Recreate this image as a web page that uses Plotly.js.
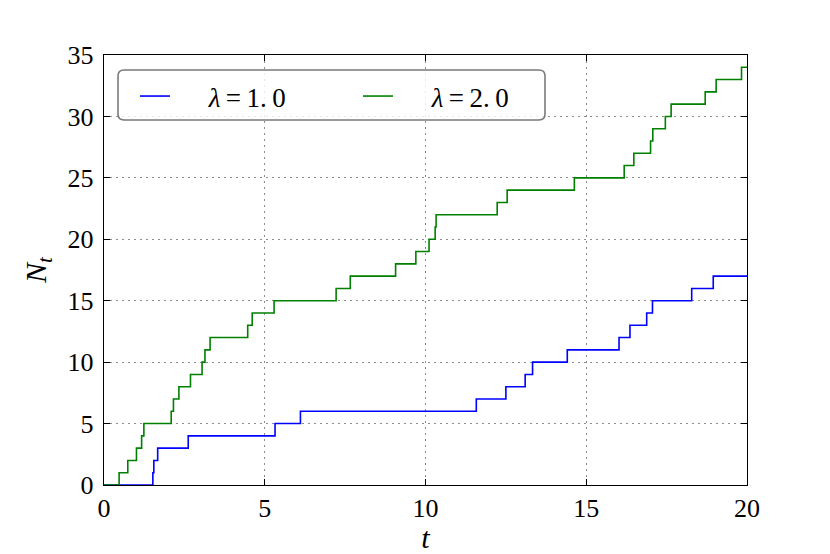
<!DOCTYPE html>
<html>
<head>
<meta charset="utf-8">
<script src="https://cdn.plot.ly/plotly-3.0.1.min.js"></script>
<style>html,body{margin:0;padding:0;background:#fff}#chart{width:830px;height:554px}</style>
</head>
<body>
<div id="chart"></div>
<script>
// Event times and counts
const blueT = [0, 1.52, 1.55, 1.67, 2.62, 5.32, 6.11, 11.58, 12.50, 13.10, 13.33, 14.41, 16.02, 16.36, 16.88, 17.06, 18.28, 18.95, 20];
const blueN = [0, 1, 2, 3, 4, 5, 6, 7, 8, 9, 10, 11, 12, 13, 14, 15, 16, 17, 17];
const greenT = [0, 0.47, 0.74, 1.01, 1.17, 1.24, 2.09, 2.16, 2.33, 2.69, 3.05, 3.14, 3.30, 4.47, 4.61, 5.29, 7.22, 7.66, 9.07, 9.70, 10.11, 10.30, 10.33, 12.23, 12.54, 14.63, 16.18, 16.48, 17.00, 17.07, 17.46, 17.64, 18.70, 19.04, 19.83, 20];
const greenN = [0, 1, 2, 3, 4, 5, 6, 7, 8, 9, 10, 11, 12, 13, 14, 15, 16, 17, 18, 19, 20, 21, 22, 23, 24, 25, 26, 27, 28, 29, 30, 31, 32, 33, 34, 34];
const seriesNames = ['<i>λ</i>\u2009=\u20091.\u20090', '<i>λ</i>\u2009=\u20092.\u20090'];
const xTicks = [0, 5, 10, 15, 20];
const yTicks = [0, 5, 10, 15, 20, 25, 30, 35];

const font = '"Liberation Serif", "Times New Roman", serif';

const traces = [
  {x: blueT, y: blueN, mode: 'lines', line: {shape: 'hv', color: '#0000ff', width: 1.6},
   name: '\u00a0\u00a0\u00a0\u00a0\u00a0' + seriesNames[0]},
  {x: greenT, y: greenN, mode: 'lines', line: {shape: 'hv', color: '#008000', width: 1.6},
   name: '\u00a0\u00a0\u00a0\u00a0\u00a0' + seriesNames[1]}
];

// rounded legend frame in paper coords
const pw = 643, ph = 430;
const x0 = 14/pw, x1 = 441/pw, y1 = (485-70)/ph, Y0 = (485-120)/ph;
const rx = 6/pw, ry = 6/ph;
const path = `M ${x0+rx},${y1} L ${x1-rx},${y1} Q ${x1},${y1} ${x1},${y1-ry} L ${x1},${Y0+ry} Q ${x1},${Y0} ${x1-rx},${Y0} L ${x0+rx},${Y0} Q ${x0},${Y0} ${x0},${Y0+ry} L ${x0},${y1-ry} Q ${x0},${y1} ${x0+rx},${y1} Z`;

const axisCommon = {
  showline: true, linecolor: '#000', linewidth: 1.2, mirror: 'ticks',
  ticks: 'inside', ticklen: 6, tickwidth: 1, tickcolor: '#000',
  showgrid: true, gridcolor: '#8c8c8c', gridwidth: 1.2, griddash: '1.5px,4.5px',
  zeroline: false, automargin: false
};

const layout = {
  width: 830, height: 554,
  margin: {l: 104, r: 83, t: 55, b: 69},
  paper_bgcolor: '#fff', plot_bgcolor: '#fff',
  font: {family: font, color: '#000'},
  xaxis: Object.assign({}, axisCommon, {
    range: [0, 20], tickmode: 'array', tickvals: xTicks, ticktext: xTicks.map(String),
    tickfont: {family: font, size: 26, color: '#000'},
    title: {text: '<i>t</i>', font: {family: font, size: 30, color: '#000'}, standoff: 2}
  }),
  yaxis: Object.assign({}, axisCommon, {
    range: [0, 35], tickmode: 'array', tickvals: yTicks, ticktext: yTicks.map(String),
    tickfont: {family: font, size: 26, color: '#000'}, ticklabelstandoff: 4,
    title: {text: '<i>N</i><sub><i>t</i></sub>', font: {family: font, size: 30, color: '#000'}, standoff: 12}
  }),
  showlegend: true,
  legend: {
    orientation: 'h', x: 31/pw, y: (485-72)/ph, xanchor: 'left', yanchor: 'top',
    bgcolor: 'rgba(0,0,0,0)', borderwidth: 0,
    font: {family: font, size: 27, color: '#000'},
    entrywidth: 178, entrywidthmode: 'pixels'
  },
  shapes: [{type: 'path', xref: 'paper', yref: 'paper', path: path,
    line: {color: '#7a7a7a', width: 1.6}, fillcolor: 'rgba(255,255,255,0.8)', layer: 'above'}]
};

Plotly.newPlot('chart', traces, layout, {displayModeBar: false, staticPlot: true});
</script>
</body>
</html>
